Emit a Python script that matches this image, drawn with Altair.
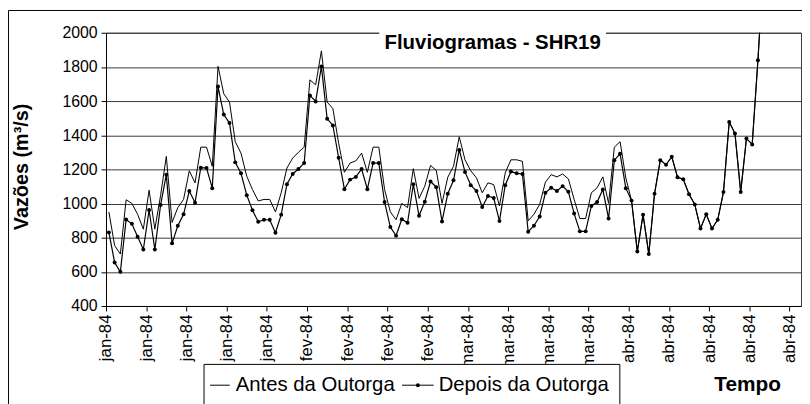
import altair as alt
import pandas as pd

titulo = "Fluviogramas - SHR19"
eixo_y = "Vazões (m³/s)"
eixo_x = "Tempo"
series = ["Antes da Outorga", "Depois da Outorga"]
meses = ["jan", "fev", "mar", "abr", "mai", "jun", "jul", "ago", "set", "out", "nov", "dez"]
inicio = "1984-01-01"
fim_eixo = "1984-05-01"
y_ticks = [400, 600, 800, 1000, 1200, 1400, 1600, 1800, 2000]

antes = [951, 754, 704, 1022, 1001, 937, 850, 1078, 850, 1047,
         1276, 889, 976, 1024, 1192, 1121, 1330, 1330, 1218, 1803,
         1643, 1594, 1362, 1295, 1160, 1082, 1015, 1024, 1024, 951,
         1063, 1208, 1266, 1300, 1330, 1724, 1695, 1894, 1594, 1556,
         1353, 1183, 1237, 1250, 1295, 1183, 1330, 1330, 1082, 951,
         905, 1001, 976, 1204, 1030, 1102, 1223, 1194, 1001, 1154,
         1218, 1391, 1256, 1192, 1150, 1063, 1121, 1111, 986, 1179,
         1256, 1256, 1247, 899, 937, 995, 1125, 1169, 1156, 1173,
         1144, 1024, 912, 912, 1063, 1092, 1156, 1001, 1330, 1362,
         1150, 1017, 719, 935, 704, 1057, 1254, 1227, 1274, 1154,
         1142, 1055, 995, 854, 937, 854, 905, 1067, 1478, 1410,
         1067, 1381, 1346, 1839, 2400]

depois = [831, 655, 600, 906, 881, 806, 731, 962, 731, 991,
          1169, 767, 870, 937, 1073, 1005, 1210, 1208, 1090, 1685,
          1521, 1471, 1241, 1177, 1049, 961, 893, 905, 905, 829,
          935, 1113, 1173, 1202, 1237, 1633, 1598, 1803, 1496, 1457,
          1268, 1084, 1140, 1156, 1202, 1084, 1237, 1237, 1009, 862,
          812, 908, 887, 1113, 928, 1011, 1129, 1096, 895, 1057,
          1136, 1314, 1185, 1107, 1073, 980, 1044, 1032, 897, 1107,
          1187, 1177, 1173, 835, 870, 924, 1063, 1092, 1073, 1102,
          1069, 941, 837, 837, 986, 1009, 1082, 912, 1254, 1291,
          1090, 1017, 719, 935, 704, 1057, 1254, 1227, 1274, 1154,
          1142, 1055, 995, 854, 937, 854, 905, 1067, 1478, 1410,
          1067, 1381, 1346, 1839, 2400]

FONT = "Liberation Sans"
t0 = pd.Timestamp(inicio)
datas = [(t0 + pd.Timedelta(days=i, hours=12)).strftime("%Y-%m-%dT%H:%M:%SZ") for i in range(len(depois))]
df = pd.DataFrame({"data": datas, "antes": antes, "depois": depois})


def ms(ts):
    return int(pd.Timestamp(ts).value // 10**6)


x_ticks = [ms(t) for t in pd.date_range(inicio, periods=18, freq="7D")]
dominio_x = [ms(inicio), ms(fim_eixo)]

label_expr = ("[" + ",".join("'%s'" % m for m in meses) + "][utcmonth(datum.value)] + '-' + utcFormat(datum.value, '%y')")

X = alt.X("data:T",
          scale=alt.Scale(type="utc", domain=dominio_x),
          axis=alt.Axis(values=x_ticks, labelExpr=label_expr, labelAngle=-90, title=None,
                        grid=False, tickSize=5, tickColor="black", domainColor="black",
                        labelFontSize=17, labelFont=FONT, labelColor="black", labelPadding=3,
                        labelAlign="right", labelBaseline="middle"))

Y_AXIS = alt.Axis(values=y_ticks, format="d", title=eixo_y, grid=True, gridColor="#3a3a3a", gridWidth=1,
                  tickSize=5, tickColor="black", domainColor="black",
                  labelFontSize=16, labelFont=FONT, labelColor="black", labelPadding=4,
                  titleFont=FONT, titleFontSize=20, titleFontWeight="bold", titleColor="black",
                  titleX=-85, titleY=135, titleAngle=270, titleAlign="center", titleBaseline="middle")


def Y(campo):
    return alt.Y(campo + ":Q", scale=alt.Scale(domain=[400, 2000], nice=False, zero=False),
                 axis=Y_AXIS, title=eixo_y)


base = alt.Chart(df)
linha_antes = base.mark_line(color="black", strokeWidth=1, clip=True).encode(x=X, y=Y("antes"))
linha_depois = base.mark_line(color="black", strokeWidth=1.2, clip=True).encode(x=X, y=Y("depois"))
pontos_depois = base.mark_circle(color="black", size=16, opacity=1, clip=True).encode(x=X, y=Y("depois"))

one = pd.DataFrame({"t": [titulo]})
caixa_titulo = alt.Chart(one).mark_rect(fill="white").encode(
    x=alt.value(276), x2=alt.value(505), y=alt.value(-5), y2=alt.value(23))
texto_titulo = alt.Chart(one).mark_text(font=FONT, fontSize=20.6, fontWeight="bold", color="black",
                                        align="center", baseline="middle").encode(
    text="t:N", x=alt.value(390.5), y=alt.value(10))

# legend box and entries
caixa_leg = alt.Chart(one).mark_rect(fill="white", stroke="black", strokeWidth=1).encode(
    x=alt.value(99), x2=alt.value(519), y=alt.value(335), y2=alt.value(420))
amostra_antes = alt.Chart(one).mark_rule(color="black", strokeWidth=1).encode(
    x=alt.value(105), x2=alt.value(125), y=alt.value(356))
amostra_depois = alt.Chart(one).mark_rule(color="black", strokeWidth=1).encode(
    x=alt.value(299), x2=alt.value(331), y=alt.value(356))
ponto_leg = alt.Chart(one).mark_circle(color="black", size=16, opacity=1).encode(
    x=alt.value(315), y=alt.value(356))
txt_antes = alt.Chart(pd.DataFrame({"t": [series[0]]})).mark_text(
    font=FONT, fontSize=20.5, color="black", align="left", baseline="middle").encode(
    text="t:N", x=alt.value(131), y=alt.value(356))
txt_depois = alt.Chart(pd.DataFrame({"t": [series[1]]})).mark_text(
    font=FONT, fontSize=20.5, color="black", align="left", baseline="middle").encode(
    text="t:N", x=alt.value(336), y=alt.value(356))
txt_tempo = alt.Chart(pd.DataFrame({"t": [eixo_x]})).mark_text(
    font=FONT, fontSize=21, fontWeight="bold", color="black", align="center", baseline="middle").encode(
    text="t:N", x=alt.value(648), y=alt.value(356))

# chart-area border (top and left)
borda_topo = alt.Chart(one).mark_rule(color="black", strokeWidth=1).encode(
    x=alt.value(-98.5), x2=alt.value(720), y=alt.value(-22.5))
borda_esq = alt.Chart(one).mark_rule(color="black", strokeWidth=1).encode(
    x=alt.value(-98.5), y=alt.value(-22.5), y2=alt.value(400))

chart = alt.layer(
    linha_antes, linha_depois, pontos_depois,
    caixa_titulo, texto_titulo,
    caixa_leg, amostra_antes, amostra_depois, ponto_leg, txt_antes, txt_depois, txt_tempo,
    borda_topo, borda_esq,
).properties(
    width=702, height=276,
    autosize=alt.AutoSizeParams(type="none"),
    padding={"left": 99, "top": 23, "right": 1, "bottom": 97},
    background="white",
).configure_view(stroke="#3a3a3a", strokeWidth=1)

chart.save("out.html", embed_options={"renderer": "svg", "actions": False})
